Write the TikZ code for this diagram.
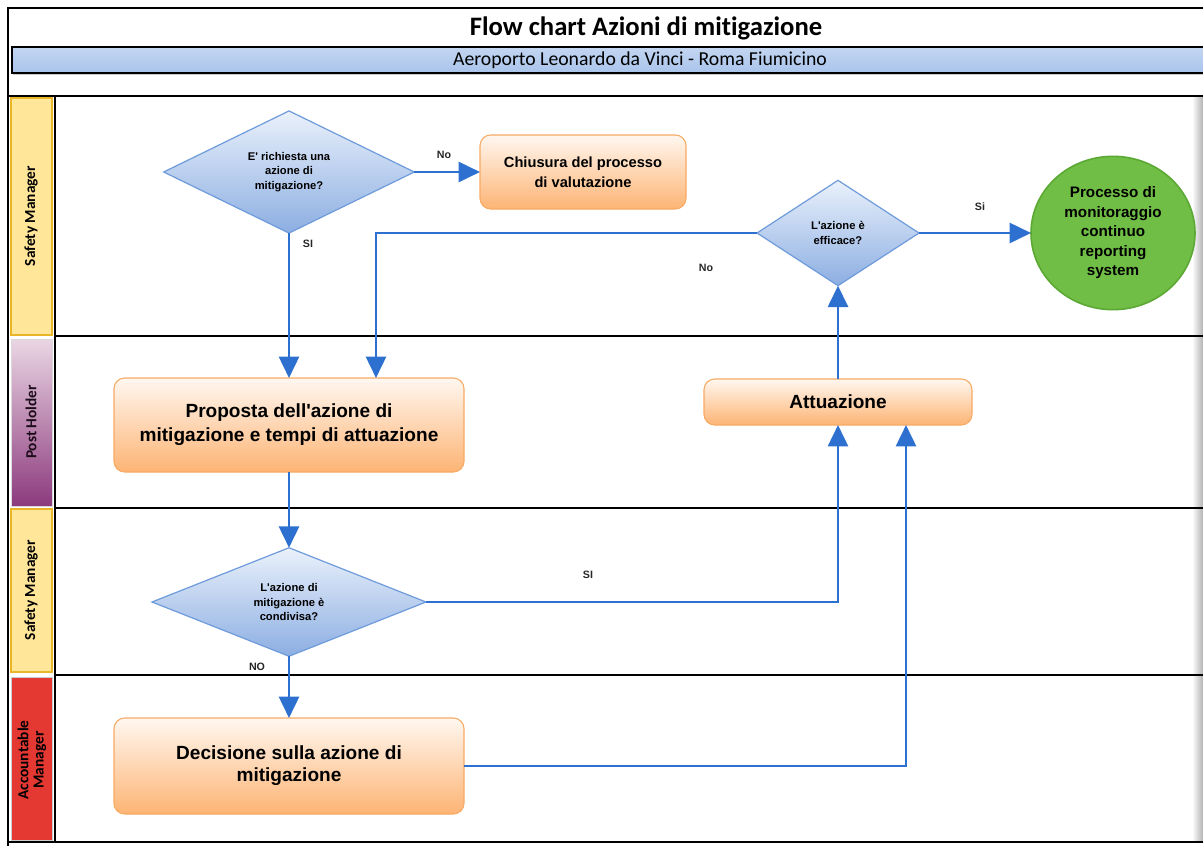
\documentclass[tikz,border=0pt]{standalone}
\usepackage{fontspec}
\setmainfont{Liberation Sans}
\newfontfamily\hdrfont[Ligatures=NoCommon]{Carlito}
\usetikzlibrary{arrows.meta,calc,positioning,shapes.geometric,shadows}
\definecolor{fcblue}{RGB}{46,112,208}
\definecolor{fcdiamtop}{RGB}{234,241,251}
\definecolor{fcdiambot}{RGB}{140,174,226}
\definecolor{fcdiamline}{RGB}{110,155,219}
\definecolor{fcboxtop}{RGB}{255,247,240}
\definecolor{fcboxbot}{RGB}{253,180,116}
\definecolor{fcboxline}{RGB}{247,170,100}
\definecolor{fcgreen}{RGB}{112,190,70}
\definecolor{fcgreenline}{RGB}{92,168,52}
\definecolor{fcband}{RGB}{169,196,235}
\definecolor{fcyellow}{RGB}{255,230,153}
\definecolor{fcgold}{RGB}{232,182,40}
\definecolor{fcpurple}{RGB}{140,58,125}
\definecolor{fcpink}{RGB}{234,214,228}
\definecolor{fcred}{RGB}{228,56,50}

\begin{document}
\begin{tikzpicture}[
      x=0.75pt, y=-0.75pt,
      decision/.style={diamond, draw=fcdiamline, line width=0.9pt, top color=fcdiamtop, bottom color=fcdiambot, align=center, inner sep=0pt, outer sep=0pt, font=\bfseries\fontsize{8.4}{11}\selectfont},
      actbox/.style={rounded corners=8pt, draw=fcboxline, line width=0.8pt, top color=fcboxtop, bottom color=fcboxbot, align=center, outer sep=0pt, font=\bfseries\fontsize{14.3}{18}\selectfont},
      flow/.style={draw=fcblue, line width=2pt, -{Triangle[length=16pt,width=15pt]}},
      elabel/.style={font=\bfseries\fontsize{8}{10}\selectfont, text=black!85},
      lanelabel/.style={rotate=90, align=center, font=\hdrfont\bfseries\fontsize{11.5}{11.5}\selectfont}
    ]
      \useasboundingbox (0,0) rectangle (1203,846);

      % Header
      \draw[line width=1pt] (8,846) -- (8,8) -- (1203,8);
      \node[font=\hdrfont\bfseries\fontsize{20}{22}\selectfont] (title) at (646,28) {Flow chart Azioni di mitigazione};
      \draw[line width=1.2pt, top color=fcband!70, bottom color=fcband, drop shadow={shadow xshift=1pt, shadow yshift=-1.5pt, opacity=0.4}] (12,47) rectangle (1206,73);
      \node[font=\hdrfont\fontsize{14.8}{16}\selectfont] (subtitle) at (640,60) {Aeroporto Leonardo da Vinci - Roma Fiumicino};

      % Lanes
      \shade[left color=white, right color=black!30] (1192,97) rectangle (1203,841);
      \draw[line width=1pt] (8,96) -- (1203,96);
      \draw[line width=1pt] (55,96) -- (55,842);
      \draw[line width=0.8pt] (55,336) -- (1203,336);
      \draw[line width=0.8pt] (55,508) -- (1203,508);
      \draw[line width=0.8pt] (55,675) -- (1203,675);
      \draw[line width=1.2pt] (8,842) -- (1203,842);

      \draw[draw=fcgold, fill=fcyellow, line width=0.8pt] (11,98) rectangle (52,335);
      \node[lanelabel] (lanesm1) at (31,216) {Safety Manager};
      \draw[draw=black!15, top color=fcpink, bottom color=fcpurple, line width=0.6pt] (11,339) rectangle (52,506);
      \node[lanelabel, text=black!80!fcpurple] (laneph) at (31,422) {Post Holder};
      \draw[draw=fcgold, fill=fcyellow, line width=0.8pt] (11,509) rectangle (52,672);
      \node[lanelabel] (lanesm2) at (31,590) {Safety Manager};
      \draw[draw=black!20, fill=fcred, line width=0.6pt] (11,677) rectangle (52,840);
      \node[lanelabel] (laneam) at (32,760) {Accountable\\Manager};

      % Safety Manager
      \node[decision, minimum width=188pt, minimum height=76pt] (askmit) at (289,172) {E\textquotesingle{} richiesta una\\azione di\\mitigazione?};
      \node[actbox, minimum width=154.5pt, minimum height=55.5pt, font=\bfseries\fontsize{11}{15}\selectfont] (closeeval) at (583,172) {Chiusura del processo\\di valutazione};
      \node[decision, minimum width=121.5pt, minimum height=79pt] (effective) at (838,233) {L\textquotesingle azione è\\efficace?};
      \node[ellipse, draw=fcgreenline, line width=1.2pt, fill=fcgreen, minimum width=123pt, minimum height=115pt, align=center, inner sep=0pt, outer sep=0pt, font=\bfseries\fontsize{11.4}{14.6}\selectfont] (monitor) at (1113,233) {Processo di\\monitoraggio\\continuo\\reporting\\system};

      % Post Holder
      \node[actbox, minimum width=262.5pt, minimum height=70.5pt] (proposal) at (289,425) {Proposta dell\textquotesingle azione di\\mitigazione e tempi di attuazione};
      \node[actbox, minimum width=201pt, minimum height=34.5pt] (actuation) at (838,402) {Attuazione};

      % Safety Manager
      \node[decision, minimum width=205.5pt, minimum height=79pt] (shared) at (289,602) {L\textquotesingle azione di\\mitigazione è\\condivisa?};

      % Accountable Manager
      \node[actbox, minimum width=262.5pt, minimum height=72pt, font=\bfseries\fontsize{14.3}{16.5}\selectfont] (decision) at (289,766) {Decisione sulla azione di\\mitigazione};

      % Connectors
      \draw[flow] (askmit.east) -- (closeeval.west);
      \draw[flow] (askmit.south) -- (proposal.north);
      \draw[flow] (effective.west) -| ([xshift=65.25pt]proposal.north);
      \draw[flow] (effective.east) -- (monitor.west);
      \draw[flow] (actuation.north) -- (effective.south);
      \draw[flow] (proposal.south) -- (shared.north);
      \draw[flow] (shared.east) -| (actuation.south);
      \draw[flow] (shared.south) -- (decision.north);
      \draw[flow] (decision.east) -| ([xshift=51pt]actuation.south);

      \node[elabel] (lblno1) at (444,155) {No};
      \node[elabel] (lblsi1) at (308,244) {SI};
      \node[elabel] (lblno2) at (706,268) {No};
      \node[elabel] (lblsi2) at (980,207) {Si};
      \node[elabel] (lblsi3) at (588,575) {SI};
      \node[elabel] (lblno3) at (257,667) {NO};
    \end{tikzpicture}
\end{document}
